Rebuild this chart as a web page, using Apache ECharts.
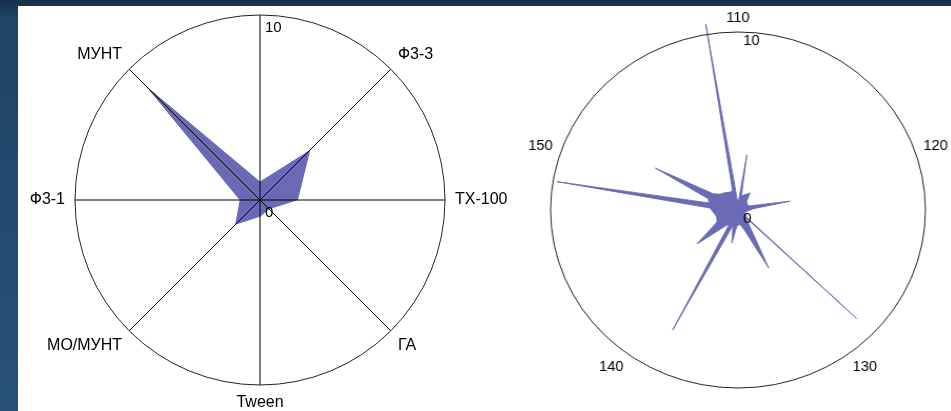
<!DOCTYPE html>
<html>
<head>
<meta charset="utf-8">
<script src="https://cdn.jsdelivr.net/npm/echarts@6/dist/echarts.min.js"></script>
<style>
  html, body { margin: 0; padding: 0; width: 951px; height: 411px; overflow: hidden;
    background: linear-gradient(180deg, #15304a 0px, #1e4466 18px, #27527a 100%); }
  #panel { position: absolute; left: 18px; top: 6px; width: 933px; height: 405px; background: #ffffff; overflow: hidden; }
  #left { position: absolute; left: 0; top: 0; width: 520px; height: 405px; }
  /* the right diagram is drawn slightly wider than tall */
  #right { position: absolute; left: 480px; top: 0; width: 453px; height: 405px;
    transform-origin: 240px 204px; transform: scaleX(1.053); }
</style>
</head>
<body>
<div id="panel"><div id="left"></div><div id="right"></div></div>
<script>
// Left diagram: eight components, clockwise from the top spoke
const axisNames = ['', 'Ф3-3', 'ТХ-100', 'ГА', 'Tween', 'МО/МУНТ', 'Ф3-1', 'МУНТ'];
const axisValues = [1.0, 3.85, 2.05, 0.7, 0.9, 1.9, 1.1, 8.8];
const radialTicks = [0, 10];

// Right diagram: intensity against angle (110 … 160, one full turn)
const spectrumAngles = [
  110.0, 110.6, 111.2, 111.8, 112.8, 114.7, 115.8, 117.5, 119.5, 120.4,
  121.1, 121.8, 123.5, 125.5, 127.5, 128.3, 128.6, 128.9, 129.9, 131.3,
  132.6, 134.0, 135.5, 136.4, 137.4, 138.4, 138.8, 139.2, 140.3, 141.8,
  143.2, 145.0, 146.5, 148.1, 148.8, 149.5, 150.5, 151.4, 152.3, 153.5,
  155.0, 156.5, 157.9, 158.7, 159.3, 160.0
];
const spectrumValues = [
  0.4, 0.6, 3.13, 0.8, 0.9, 1.15, 0.7, 0.6, 0.6, 1.1,
  2.82, 0.8, 0.5, 0.4, 0.4, 0.6, 8.78, 0.6, 0.9, 3.65,
  1.2, 0.8, 0.9, 1.88, 0.9, 0.9, 7.6, 0.9, 1.2, 2.9,
  1.3, 1.2, 1.3, 1.5, 9.8, 1.6, 1.7, 5.0, 1.6, 1.3,
  1.2, 1.1, 1.1, 10.59, 0.7, 0.4
];
const angleTicks = [110, 120, 130, 140, 150];

const FONT = '"Liberation Sans", Arial, sans-serif';
const FILL = '#6a6ab6';
const FRAME = '#222';

// polar data items are [radius, angle]
const leftData = axisValues.map((v, i) => [v, i]);
leftData.push([axisValues[0], axisNames.length]);
const rightData = spectrumAngles.map((a, i) => [spectrumValues[i], a]);

const hiddenAxis = { show: false };

// ---- left diagram ----
const left = echarts.init(document.getElementById('left'));
left.setOption({
  animation: false,
  polar: { center: [242, 194], radius: 185 },
  angleAxis: {
    type: 'value', min: 0, max: axisNames.length, interval: 1,
    startAngle: 90, clockwise: true, z: 5,
    axisLine: { lineStyle: { color: FRAME, width: 1 } },
    axisTick: { show: false },
    splitLine: { show: true, lineStyle: { color: '#000', width: 1 } },
    axisLabel: {
      margin: 10, color: '#000', fontSize: 16, fontFamily: FONT,
      formatter: v => axisNames[v] || ''
    }
  },
  radiusAxis: {
    type: 'value', min: radialTicks[0], max: radialTicks[1], interval: 10, z: 6,
    axisLine: { show: false }, axisTick: { show: false }, splitLine: { show: false },
    axisLabel: { align: 'left', verticalAlign: 'top', margin: -5, padding: [5, 0, 0, 0],
      color: '#000', fontSize: 15, fontFamily: FONT }
  },
  series: [{
    type: 'line', coordinateSystem: 'polar', data: leftData,
    symbol: 'none', clip: false, z: 2,
    lineStyle: { width: 0, color: FILL },
    areaStyle: { color: FILL, opacity: 1 }
  }]
});

// ---- right diagram ----
// polar 0 carries the frame and labels (0 … 10); polar 1 uses the same scale
// with headroom so that peaks above 10 run past the outer circle
const R = 178;
const HEAD = 12;
const right = echarts.init(document.getElementById('right'));
right.setOption({
  animation: false,
  polar: [
    { center: [240, 204], radius: R },
    { center: [240, 204], radius: R * HEAD / radialTicks[1] }
  ],
  angleAxis: [
    {
      polarIndex: 0, type: 'value', min: angleTicks[0], max: angleTicks[0] + 50, interval: 10,
      startAngle: 90, clockwise: true, z: 5,
      axisLine: { lineStyle: { color: FRAME, width: 1 } },
      axisTick: { show: false },
      splitLine: { show: false },
      axisLabel: {
        margin: 7, color: '#000', fontSize: 14, fontFamily: FONT,
        formatter: v => (angleTicks.indexOf(v) >= 0 ? String(v) : '')
      }
    },
    {
      polarIndex: 1, type: 'value', min: angleTicks[0], max: angleTicks[0] + 50,
      startAngle: 90, clockwise: true,
      axisLine: hiddenAxis, axisTick: hiddenAxis, splitLine: hiddenAxis, axisLabel: hiddenAxis
    }
  ],
  radiusAxis: [
    {
      polarIndex: 0, type: 'value', min: radialTicks[0], max: radialTicks[1], interval: 10, z: 6,
      axisLine: { show: false }, axisTick: { show: false }, splitLine: { show: false },
      axisLabel: { align: 'left', verticalAlign: 'top', margin: -5, padding: [2, 0, 0, 0],
        color: '#000', fontSize: 14, fontFamily: FONT }
    },
    {
      polarIndex: 1, type: 'value', min: radialTicks[0], max: HEAD,
      axisLine: hiddenAxis, axisTick: hiddenAxis, splitLine: hiddenAxis, axisLabel: hiddenAxis
    }
  ],
  series: [{
    type: 'line', coordinateSystem: 'polar', polarIndex: 1, data: rightData,
    symbol: 'none', clip: false, z: 2,
    lineStyle: { width: 0.9, color: FILL },
    areaStyle: { color: FILL, opacity: 1 }
  }]
});
</script>
</body>
</html>
